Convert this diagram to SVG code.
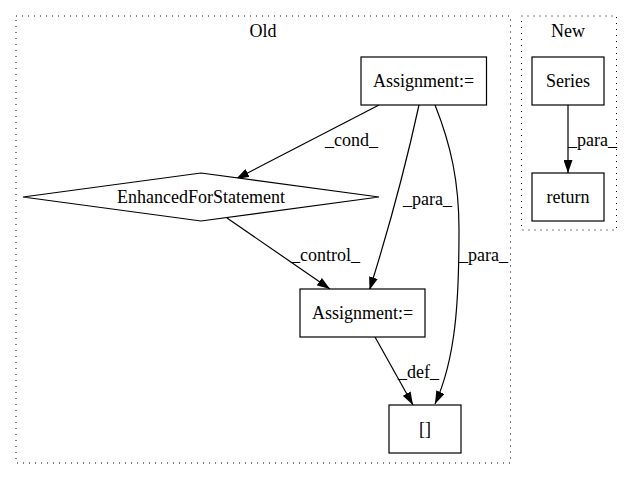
<svg xmlns="http://www.w3.org/2000/svg" width="632" height="480" viewBox="0 0 632 480">
  <style>
    .cluster { fill: none; stroke: #000; stroke-width: 1; stroke-dasharray: 1 5; }
    .box { fill: #fff; stroke: #000; stroke-width: 1.2; }
    .edge { fill: none; stroke: #000; stroke-width: 1.2; }
    text { font-family: "Liberation Serif", "Times New Roman", serif; font-size: 18px; fill: #000; }
    .c { text-anchor: middle; }
  </style>
  <defs>
    <marker id="arrow" viewBox="0 0 13 9" refX="13" refY="4.5" markerWidth="13" markerHeight="9" markerUnits="userSpaceOnUse" orient="auto">
      <path d="M0,0 L13,4.5 L0,9 z" fill="#000"/>
    </marker>
  </defs>
  <rect width="632" height="480" fill="#fff"/>

  <!-- clusters -->
  <g id="cluster-old">
    <rect class="cluster" x="16" y="16" width="494.5" height="447"/>
    <text class="c" x="263" y="37">Old</text>
  </g>
  <g id="cluster-new">
    <rect class="cluster" x="521.5" y="16" width="95" height="214"/>
    <text class="c" x="568" y="37">New</text>
  </g>

  <!-- connectors -->
  <g id="edges">
    <path class="edge" d="M379,105 L236,179" marker-end="url(#arrow)"/>
    <text x="325" y="146">_cond_</text>

    <path class="edge" d="M419,105 C407,160 390,225 369.5,290" marker-end="url(#arrow)"/>
    <text x="403" y="205">_para_</text>

    <path class="edge" d="M435,105 C451,145 459,182 459,230 C459,300 456,358 435,404" marker-end="url(#arrow)"/>
    <text x="459" y="261">_para_</text>

    <path class="edge" d="M227,218 L330,289" marker-end="url(#arrow)"/>
    <text x="291" y="261">_control_</text>

    <path class="edge" d="M375,337 L413,405" marker-end="url(#arrow)"/>
    <text x="398" y="378">_def_</text>

    <path class="edge" d="M568,105 L568,173" marker-end="url(#arrow)"/>
    <text x="568" y="146">_para_</text>
  </g>

  <!-- nodes -->
  <g id="assign-top">
    <rect class="box" x="361" y="57" width="125.5" height="48"/>
    <text class="c" x="423.5" y="87">Assignment:=</text>
  </g>
  <g id="enhanced-for">
    <polygon class="box" points="201,173 379,197 201,221 23,197"/>
    <text class="c" x="201" y="203">EnhancedForStatement</text>
  </g>
  <g id="assign-mid">
    <rect class="box" x="300" y="289" width="125" height="48"/>
    <text class="c" x="362.5" y="319">Assignment:=</text>
  </g>
  <g id="index">
    <rect class="box" x="389" y="405" width="72" height="48"/>
    <text class="c" x="425" y="435">[]</text>
  </g>
  <g id="series">
    <rect class="box" x="532" y="57" width="72" height="48"/>
    <text class="c" x="568" y="87">Series</text>
  </g>
  <g id="return">
    <rect class="box" x="532" y="173" width="72" height="48"/>
    <text class="c" x="568" y="203">return</text>
  </g>
</svg>
